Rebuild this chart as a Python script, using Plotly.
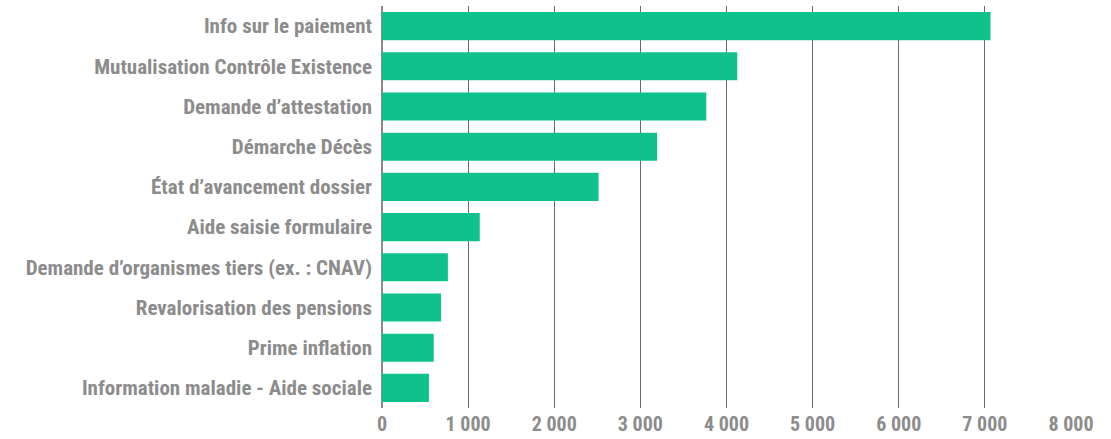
import plotly.graph_objects as go

# Motifs de contact, du plus fréquent au moins fréquent
categories = [
    "Info sur le paiement",
    "Mutualisation Contrôle Existence",
    "Demande d’attestation",
    "Démarche Décès",
    "État d’avancement dossier",
    "Aide saisie formulaire",
    "Demande d’organismes tiers (ex. : CNAV)",
    "Revalorisation des pensions",
    "Prime inflation",
    "Information maladie - Aide sociale",
]
volumes = [7065, 4125, 3765, 3195, 2515, 1135, 765, 685, 600, 545]
x_ticks = [0, 1000, 2000, 3000, 4000, 5000, 6000, 7000, 8000]

FONT = "Liberation Sans Narrow, Roboto Condensed, Roboto, sans-serif"
GREY = "#8c8c8c"

fig = go.Figure(
    go.Bar(
        x=volumes,
        y=categories,
        orientation="h",
        marker=dict(color="#0fc18a", line=dict(width=0)),
        hoverinfo="x+y",
    )
)

fig.update_layout(
    width=1111,
    height=439,
    margin=dict(l=382, r=40, t=6, b=31),
    paper_bgcolor="white",
    plot_bgcolor="white",
    bargap=0.3,
    showlegend=False,
    separators=", ",
    font=dict(family=FONT, size=21, color=GREY),
)

fig.update_xaxes(
    range=[0, 8000],
    tickvals=x_ticks,
    tickformat=",d",
    showgrid=True,
    gridcolor="#6a6a6a",
    gridwidth=1,
    zeroline=True,
    zerolinecolor="#8a8a8a",
    zerolinewidth=2,
    showline=False,
    ticks="",
    automargin=False,
    ticklabelstandoff=2,
    tickfont=dict(family=FONT, size=20, color=GREY, weight="bold"),
)

fig.update_yaxes(
    autorange="reversed",
    showgrid=False,
    zeroline=False,
    showline=False,
    ticks="",
    automargin=False,
    ticklabelstandoff=9,
    tickfont=dict(family=FONT, size=21, color=GREY, weight="bold"),
)

fig.write_html("out.html")
